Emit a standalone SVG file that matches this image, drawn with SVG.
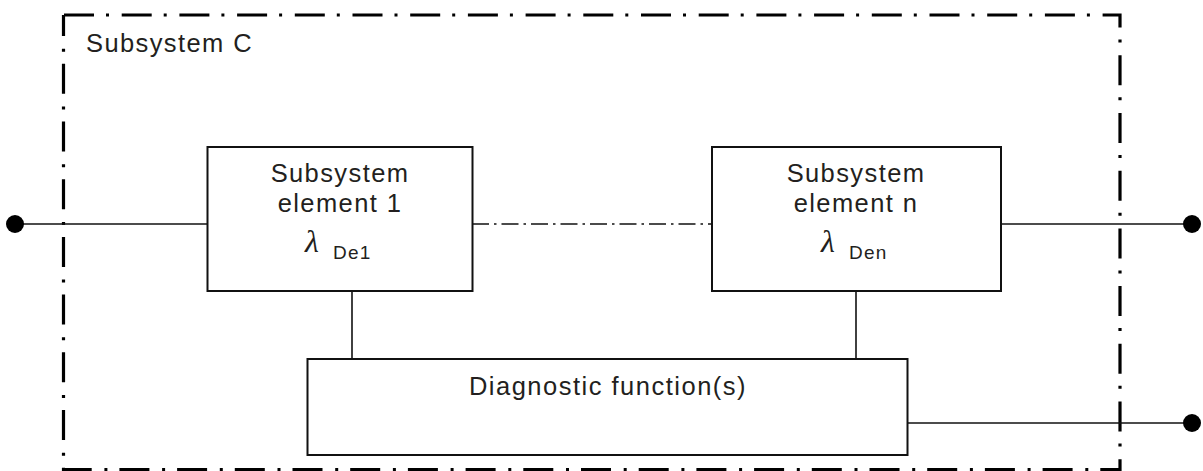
<svg xmlns="http://www.w3.org/2000/svg" width="1203" height="471" viewBox="0 0 1203 471">
<style>
.box{fill:#fff;stroke:#111;stroke-width:2}
.ln{fill:none;stroke:#111;stroke-width:1.6}
.t{font-family:"Liberation Sans",Arial,sans-serif;font-size:25.5px;letter-spacing:1.4px;fill:#231f20}
.sub{font-family:"Liberation Sans",Arial,sans-serif;font-size:19px;letter-spacing:1.2px;fill:#231f20}
.lam{font-family:"Liberation Serif","Times New Roman",serif;font-style:italic;font-size:32px;fill:#231f20}
.dot{fill:#000}
</style>
<g id="border">
<path d="M64,15 H1120 V469.5 H63.5 V15" fill="none" stroke="#000" stroke-width="3.2" stroke-dasharray="30 12 3 12.7"/>
<text class="t" x="86" y="52">Subsystem C</text>
</g>
<g id="connectors">
<line class="ln" x1="15" y1="224" x2="207" y2="224"/>
<line class="ln" x1="472" y1="224" x2="712" y2="224" stroke-dasharray="17 5 2.5 5"/>
<line class="ln" x1="1001" y1="224" x2="1192" y2="224"/>
<line class="ln" x1="352" y1="291" x2="352" y2="359"/>
<line class="ln" x1="856" y1="291" x2="856" y2="359"/>
<line class="ln" x1="904" y1="423" x2="1192" y2="423"/>
<circle class="dot" cx="15" cy="224" r="9"/>
<circle class="dot" cx="1192" cy="224" r="9"/>
<circle class="dot" cx="1192" cy="423" r="9"/>
</g>
<g id="element1">
<rect class="box" x="207.5" y="147" width="265" height="144"/>
<text class="t" x="340" y="182" text-anchor="middle">Subsystem</text>
<text class="t" x="340" y="211.5" text-anchor="middle">element 1</text>
<text class="lam" x="305" y="252">λ</text>
<text class="sub" x="333" y="259">De1</text>
</g>
<g id="elementn">
<rect class="box" x="712" y="147" width="289" height="144"/>
<text class="t" x="856" y="182" text-anchor="middle">Subsystem</text>
<text class="t" x="856" y="211.5" text-anchor="middle">element n</text>
<text class="lam" x="821" y="252">λ</text>
<text class="sub" x="849" y="259">Den</text>
</g>
<g id="diagnostic">
<rect class="box" x="307.5" y="359" width="600" height="96"/>
<text class="t" x="608" y="395" text-anchor="middle" style="letter-spacing:1.5px">Diagnostic function(s)</text>
</g>
</svg>
